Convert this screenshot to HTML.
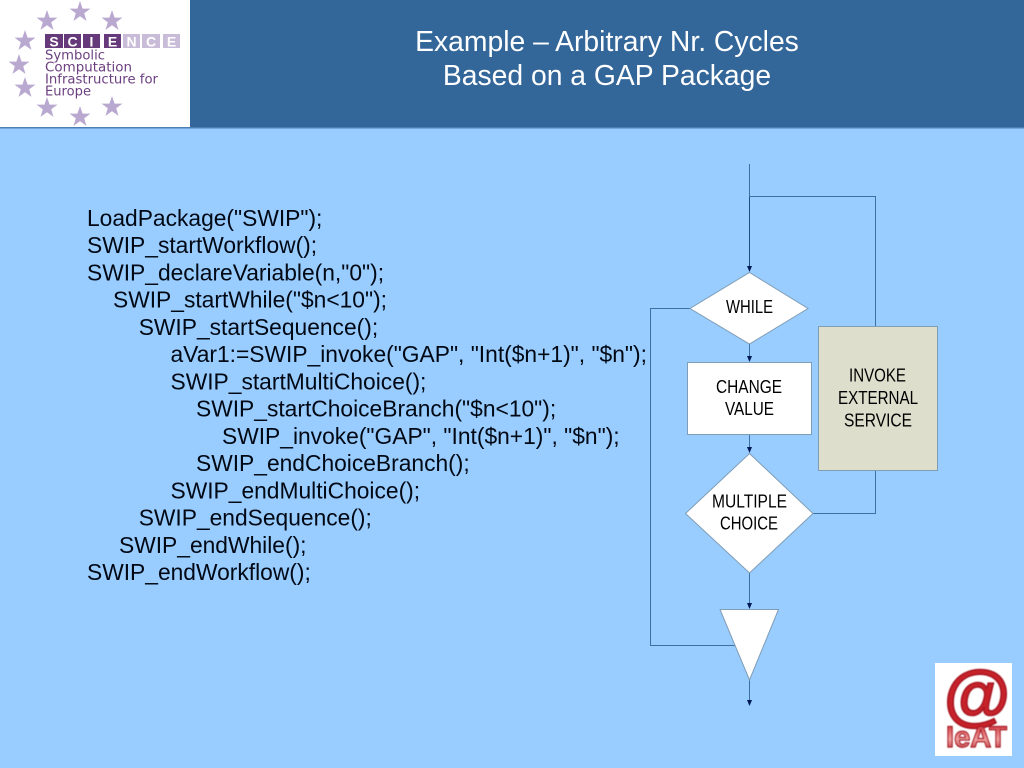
<!DOCTYPE html>
<html><head><meta charset="utf-8"><title>Example – Arbitrary Nr. Cycles</title>
<style>html,body{margin:0;padding:0;background:#99ccff}svg{display:block}</style></head>
<body>
<svg xmlns="http://www.w3.org/2000/svg" width="1024" height="768" viewBox="0 0 1024 768" font-family="'Liberation Sans',sans-serif">
<defs>
<polygon id="st" points="0,-11 2.6,-3.4 10.5,-3.4 4.2,1.3 6.5,8.9 0,4.2 -6.5,8.9 -4.2,1.3 -10.5,-3.4 -2.6,-3.4"/>
<filter id="bl"><feGaussianBlur stdDeviation="0.6"/></filter>
<linearGradient id="rg" x1="0" y1="0" x2="0" y2="1"><stop offset="0" stop-color="#c8202a"/><stop offset="0.55" stop-color="#f3a0a0"/><stop offset="1" stop-color="#b01820"/></linearGradient>
</defs>
<rect width="1024" height="768" fill="#99ccff"/>
<rect width="1024" height="127" fill="#336699"/>
<rect y="127" width="1024" height="1.5" fill="#4a7fb5"/>
<rect width="190" height="127" fill="#fff"/>
<g fill="#b9a9d0">
<use href="#st" x="80" y="12"/><use href="#st" x="47" y="21"/><use href="#st" x="112" y="21"/>
<use href="#st" x="25" y="41"/><use href="#st" x="19" y="65"/><use href="#st" x="25" y="88"/>
<use href="#st" x="47" y="108"/><use href="#st" x="112" y="107"/><use href="#st" x="80" y="117"/>
</g>
<g fill="#663a7a"><rect x="45" y="34" width="18" height="14"/><rect x="64" y="34" width="17" height="14"/><rect x="83" y="34" width="17" height="14"/><rect x="104" y="34" width="17" height="14"/></g>
<g fill="#c8bcd8"><rect x="123" y="34" width="17" height="14"/><rect x="142" y="34" width="18" height="14"/><rect x="163" y="34" width="17" height="14"/></g>
<g font-size="14" font-weight="bold" text-anchor="middle" fill="#fff"><text x="54" y="46.500">S</text><text x="72.500" y="46.500">C</text><text x="91.500" y="46.500">I</text><text x="112.500" y="46.500">E</text><text x="131.500" y="46.500">N</text><text x="151" y="46.500">C</text><text x="171.500" y="46.500">E</text></g>
<g font-family="'DejaVu Sans',sans-serif" font-size="13.500" fill="#6b3f80">
<text x="45" y="59.500" textLength="60" lengthAdjust="spacingAndGlyphs">Symbolic</text>
<text x="45" y="71.500" textLength="87" lengthAdjust="spacingAndGlyphs">Computation</text>
<text x="45" y="83.500" textLength="113" lengthAdjust="spacingAndGlyphs">Infrastructure for</text>
<text x="45" y="95.500" textLength="46" lengthAdjust="spacingAndGlyphs">Europe</text>
</g>
<g fill="#fff" font-size="28.300" text-anchor="middle">
<text x="607" y="51">Example – Arbitrary Nr. Cycles</text>
<text x="607" y="85">Based on a GAP Package</text>
</g>
<g fill="#000814" font-size="22.800">
<text x="87" y="225.800">LoadPackage("SWIP");</text>
<text x="87" y="253.100">SWIP_startWorkflow();</text>
<text x="87" y="280.300">SWIP_declareVariable(n,"0");</text>
<text x="113" y="307.600">SWIP_startWhile("$n&lt;10");</text>
<text x="138.700" y="334.800">SWIP_startSequence();</text>
<text x="170.500" y="362.100">aVar1:=SWIP_invoke("GAP", "Int($n+1)", "$n");</text>
<text x="170.500" y="389.300">SWIP_startMultiChoice();</text>
<text x="196" y="416.600">SWIP_startChoiceBranch("$n&lt;10");</text>
<text x="222" y="443.800">SWIP_invoke("GAP", "Int($n+1)", "$n");</text>
<text x="196" y="471.100">SWIP_endChoiceBranch();</text>
<text x="170.500" y="498.300">SWIP_endMultiChoice();</text>
<text x="138.700" y="525.600">SWIP_endSequence();</text>
<text x="119" y="552.800">SWIP_endWhile();</text>
<text x="87" y="580.100">SWIP_endWorkflow();</text>
</g>
<g fill="none" stroke="#3d6f9f" stroke-width="1">
<path d="M749.500 164V268"/>
<path d="M749.500 196.500H875.500V326"/>
<path d="M875.500 471V513.500H813"/>
<path d="M690 308.500H650.500V645.500H735"/>
<path d="M749.500 344V358M749.500 434V449M749.500 573V605M749.500 680V701"/>
</g>
<path d="M749.500 197V268" stroke="#1f4f80" stroke-width="1" fill="none"/>
<g fill="#001a55">
<path d="M747 266h5l-2.500 6z"/><path d="M747 356h5l-2.500 6z"/><path d="M747 447h5l-2.500 6z"/><path d="M747 603h5l-2.500 6z"/><path d="M747 700h5l-2.500 6z"/>
</g>
<g fill="#fff" stroke="#7f9db5" stroke-width="1">
<polygon points="749.500,272.500 808,308.500 749.500,344 690,308.500"/>
<rect x="687.500" y="362.500" width="124" height="72"/>
<polygon points="749.500,453.500 813,513.500 749.500,573 685.500,513.500"/>
<polygon points="720,609.500 778.500,609.500 749.500,680"/>
</g>
<rect x="818.500" y="326.500" width="119" height="144" fill="#dddecb" stroke="#7f9db5" stroke-width="1"/>
<g fill="#000" font-size="18.500">
<text x="726" y="313" textLength="47" lengthAdjust="spacingAndGlyphs">WHILE</text>
<text x="716" y="393" textLength="66" lengthAdjust="spacingAndGlyphs">CHANGE</text>
<text x="725" y="415" textLength="49" lengthAdjust="spacingAndGlyphs">VALUE</text>
<text x="712" y="507.500" textLength="75" lengthAdjust="spacingAndGlyphs">MULTIPLE</text>
<text x="720" y="529.500" textLength="58" lengthAdjust="spacingAndGlyphs">CHOICE</text>
<text x="849" y="381.500" textLength="57" lengthAdjust="spacingAndGlyphs">INVOKE</text>
<text x="838" y="404" textLength="80" lengthAdjust="spacingAndGlyphs">EXTERNAL</text>
<text x="844" y="426.500" textLength="68" lengthAdjust="spacingAndGlyphs">SERVICE</text>
</g>
<rect x="935" y="663" width="77" height="93" fill="#fff"/>
<g filter="url(#bl)">
<text x="977" y="718" font-size="68" font-weight="bold" text-anchor="middle" fill="#c8202a" stroke="#a81820" stroke-width="1.600">@</text>
<text x="946" y="747" font-size="30" font-weight="bold" fill="url(#rg)" stroke="#a81820" stroke-width="1.200" textLength="61" lengthAdjust="spacingAndGlyphs">IeAT</text>
</g>
</svg>
</body></html>
